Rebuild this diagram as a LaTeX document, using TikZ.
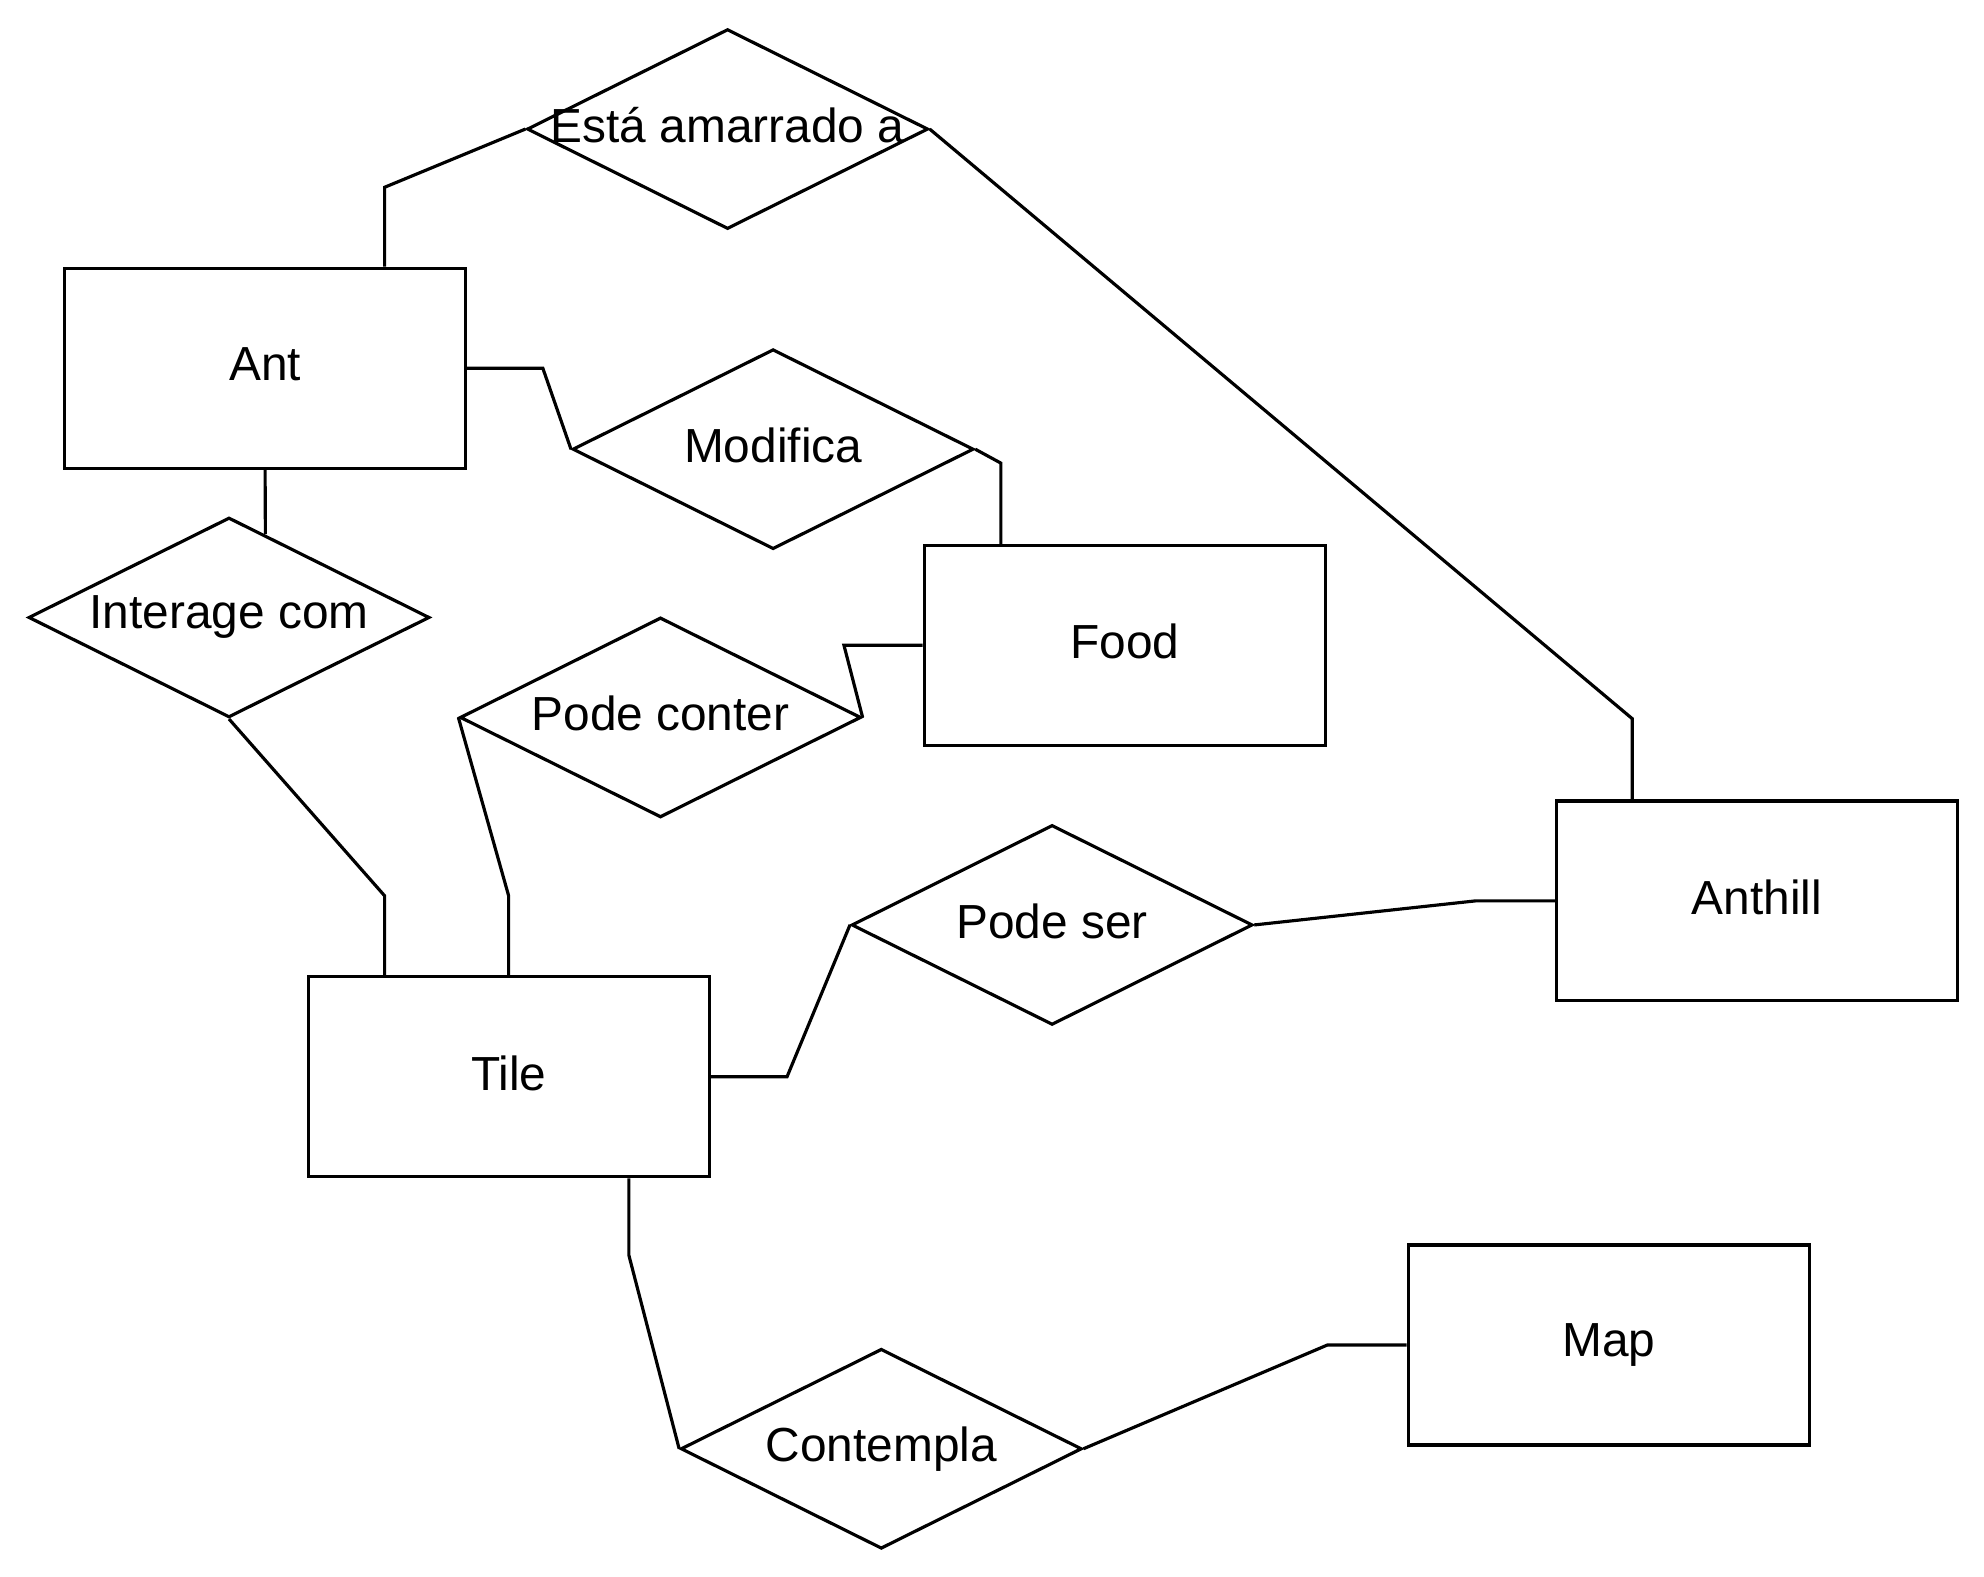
\documentclass[tikz,border=0pt]{standalone}
\usepackage{fontspec}
\setmainfont{Liberation Sans}
\usetikzlibrary{shapes.geometric,calc}
\newcommand{\entlab}[1]{\raisebox{3pt}{#1}}
\newcommand{\rellab}[1]{\raisebox{3pt}{\makebox[0pt]{#1}}}
\begin{document}
\begin{tikzpicture}[x=0.5pt,y=-0.5pt,
  lbl/.style={font=\fontsize{18.9}{22}\selectfont},
  ent/.style={draw,lbl,line width=1.25pt,minimum width=158.5pt,minimum height=79pt,inner sep=0pt},
  rel/.style={draw,diamond,lbl,line width=1.25pt,minimum width=158.5pt,minimum height=79pt,inner sep=0pt},
  conn/.style={line width=1.25pt}]
\useasboundingbox (0,0) rectangle (1568,1246);
% entities
\node[ent] (ant) at (209.5,291) {\entlab{Ant}};
\node[ent] (food) at (889,510) {\entlab{Food}};
\node[ent] (tile) at (402,851) {\entlab{Tile}};
\node[ent] (anthill) at (1388.5,712) {\entlab{Anthill}};
\node[ent] (map) at (1271.5,1063) {\entlab{Map}};
% relationships
\node[rel] (esta) at (575,102) {\rellab{Está amarrado a}};
\node[rel] (modif) at (611,355) {\rellab{Modifica}};
\node[rel] (inter) at (181,488) {\rellab{Interage com}};
\node[rel] (podec) at (522,567) {\rellab{Pode conter}};
\node[rel] (poser) at (831.5,731) {\rellab{Pode ser}};
\node[rel] (contem) at (696.5,1145) {\rellab{Contempla}};
% bend points
\coordinate (b1) at (304,148);
\coordinate (b2) at (1290,568);
\coordinate (b3) at (429,291);
\coordinate (b4) at (791,366);
\coordinate (b6) at (304,708);
\coordinate (b7) at (402,708);
\coordinate (b8) at (667,510);
\coordinate (b9) at (622,851);
\coordinate (b10) at (1166,712);
\coordinate (b11) at (497,992);
\coordinate (b12) at (1049,1063);
% connectors
\draw[conn] (ant.north -| b1) -- (b1) -- (esta.west);
\draw[conn] (esta.east) -- (b2) -- (anthill.north -| b2);
\draw[conn] (ant.east) -- (b3) -- (modif.west);
\draw[conn] (modif.east) -- (b4) -- (food.north -| b4);
\draw[conn] (ant.south) -- ($(inter.north)!0.18!(inter.east)$);
\draw[conn] (inter.south) -- (b6) -- (tile.north -| b6);
\draw[conn] (podec.west) -- (b7) -- (tile.north -| b7);
\draw[conn] (food.west) -- (b8) -- (podec.east);
\draw[conn] (tile.east) -- (b9) -- (poser.west);
\draw[conn] (poser.east) -- (b10) -- (anthill.west);
\draw[conn] (tile.south -| b11) -- (b11) -- (contem.west);
\draw[conn] (contem.east) -- (b12) -- (map.west);
\end{tikzpicture}
\end{document}
